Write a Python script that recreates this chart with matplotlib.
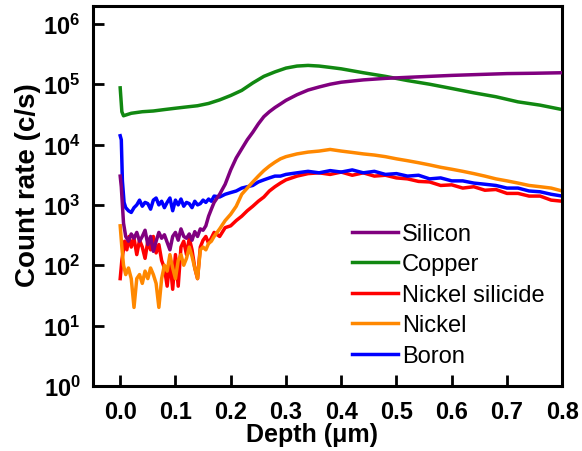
import matplotlib.pyplot as plt
import numpy as np
from matplotlib.ticker import NullLocator

plt.rcParams['font.family'] = ['Liberation Sans', 'DejaVu Sans']
plt.rcParams['mathtext.fontset'] = 'custom'
plt.rcParams['mathtext.rm'] = 'Liberation Sans'
plt.rcParams['mathtext.bf'] = 'Liberation Sans:bold'

# --- data ---
# Silicon
si_depth = [0.000, 0.002, 0.006, 0.010, 0.015, 0.020, 0.025, 0.030, 0.035, 0.040,
            0.045, 0.050, 0.055, 0.060, 0.065, 0.070, 0.075, 0.080, 0.085, 0.090,
            0.095, 0.100, 0.105, 0.110, 0.115, 0.120, 0.125, 0.130, 0.135, 0.140,
            0.145, 0.150, 0.155, 0.160, 0.165, 0.170, 0.180, 0.190, 0.200, 0.210,
            0.220, 0.230, 0.240, 0.250, 0.260, 0.270, 0.280, 0.290, 0.300, 0.320,
            0.340, 0.360, 0.380, 0.400, 0.440, 0.480, 0.520, 0.560, 0.600, 0.650,
            0.700, 0.750, 0.800]
si_rate = [3000, 2000, 500, 300, 250, 330, 280, 350, 250, 300,
           380, 220, 300, 170, 250, 350, 280, 320, 240, 180,
           300, 350, 260, 400, 300, 280, 330, 260, 360, 300,
           400, 380, 450, 650, 850, 1100, 1500, 2200, 3800, 6000,
           8500, 12000, 16000, 22000, 29000, 35000, 41000, 47000, 54000, 67000,
           80000, 90000, 100000, 108000, 118000, 125000, 130000, 135000, 140000, 145000,
           150000, 152000, 155000]

# Copper
cu_depth = [0.000, 0.003, 0.006, 0.020, 0.040, 0.060, 0.080, 0.100, 0.120, 0.140,
            0.160, 0.180, 0.200, 0.220, 0.240, 0.260, 0.280, 0.300, 0.320, 0.340,
            0.360, 0.380, 0.400, 0.440, 0.480, 0.520, 0.560, 0.600, 0.640, 0.680,
            0.720, 0.760, 0.800]
cu_rate = [87000, 35000, 30000, 33000, 35000, 36000, 38000, 40000, 42000, 44000,
           48000, 55000, 65000, 79000, 105000, 135000, 160000, 185000, 200000, 205000,
           200000, 190000, 180000, 155000, 135000, 115000, 100000, 85000, 72000, 62000,
           51000, 45000, 38000]

# Nickel silicide
nisi_depth = [0.000, 0.003, 0.008, 0.012, 0.016, 0.020, 0.025, 0.030, 0.035, 0.040,
              0.045, 0.050, 0.055, 0.060, 0.065, 0.070, 0.075, 0.080, 0.085, 0.090,
              0.095, 0.100, 0.105, 0.110, 0.115, 0.120, 0.125, 0.130, 0.135, 0.140,
              0.145, 0.150, 0.155, 0.160, 0.170, 0.180, 0.190, 0.200, 0.210, 0.220,
              0.230, 0.240, 0.250, 0.260, 0.270, 0.280, 0.290, 0.300, 0.320, 0.340,
              0.360, 0.380, 0.400, 0.420, 0.440, 0.460, 0.480, 0.500, 0.520, 0.540,
              0.560, 0.580, 0.600, 0.620, 0.640, 0.660, 0.680, 0.700, 0.720, 0.740,
              0.760, 0.780, 0.800]
nisi_rate = [60, 120, 250, 180, 300, 200, 280, 150, 260, 200,
             130, 250, 180, 300, 160, 220, 120, 90, 45, 120,
             40, 150, 45, 200, 250, 150, 280, 180, 90, 60,
             200, 260, 300, 230, 350, 300, 420, 450, 550, 650,
             800, 950, 1150, 1350, 1700, 2000, 2300, 2600, 3000, 3300,
             3400, 3200, 3500, 3100, 3400, 3000, 3100, 2800, 2700, 2450,
             2400, 2100, 2150, 1900, 2000, 1750, 1800, 1550, 1550, 1400,
             1400, 1200, 1150]

# Nickel
ni_depth = [0.000, 0.003, 0.006, 0.010, 0.015, 0.020, 0.025, 0.030, 0.035, 0.040,
            0.045, 0.050, 0.055, 0.060, 0.065, 0.070, 0.075, 0.080, 0.085, 0.090,
            0.095, 0.100, 0.105, 0.110, 0.115, 0.120, 0.125, 0.130, 0.135, 0.140,
            0.145, 0.150, 0.155, 0.160, 0.165, 0.170, 0.180, 0.190, 0.200, 0.210,
            0.220, 0.230, 0.240, 0.250, 0.260, 0.270, 0.280, 0.290, 0.300, 0.320,
            0.340, 0.360, 0.380, 0.400, 0.420, 0.440, 0.460, 0.480, 0.500, 0.520,
            0.540, 0.560, 0.580, 0.600, 0.620, 0.640, 0.660, 0.680, 0.700, 0.720,
            0.740, 0.760, 0.780, 0.800]
ni_rate = [450, 200, 100, 70, 90, 60, 20, 60, 70, 50,
           80, 60, 90, 70, 50, 20, 60, 100, 80, 150,
           90, 60, 120, 150, 100, 130, 200, 140, 90, 60,
           180, 200, 180, 230, 250, 300, 400, 550, 700, 950,
           1500, 1900, 2400, 3000, 3700, 4400, 5100, 5800, 6300, 7000,
           7500, 7800, 8300, 7800, 7400, 7000, 6700, 6300, 5800, 5400,
           5000, 4600, 4200, 3900, 3600, 3300, 3000, 2700, 2500, 2300,
           2100, 2000, 1900, 1700]

# Boron
b_depth = [0.000, 0.002, 0.004, 0.007, 0.010, 0.015, 0.020, 0.025, 0.030, 0.035,
           0.040, 0.045, 0.050, 0.055, 0.060, 0.065, 0.070, 0.075, 0.080, 0.085,
           0.090, 0.095, 0.100, 0.105, 0.110, 0.115, 0.120, 0.125, 0.130, 0.135,
           0.140, 0.145, 0.150, 0.155, 0.160, 0.165, 0.170, 0.180, 0.190, 0.200,
           0.210, 0.220, 0.230, 0.240, 0.250, 0.260, 0.270, 0.280, 0.290, 0.300,
           0.320, 0.340, 0.360, 0.380, 0.400, 0.420, 0.440, 0.460, 0.480, 0.500,
           0.520, 0.540, 0.560, 0.580, 0.600, 0.620, 0.640, 0.660, 0.680, 0.700,
           0.720, 0.740, 0.760, 0.780, 0.800]
b_rate = [14000, 12000, 2500, 1100, 900, 800, 750, 900, 1000, 1200,
          950, 1100, 1050, 850, 1200, 1300, 1000, 1150, 900, 1100,
          1300, 800, 1200, 1000, 1250, 950, 1100, 1050, 900, 1150,
          1000, 1050, 1200, 1100, 1250, 1150, 1400, 1350, 1500, 1600,
          1700, 1900, 2000, 2100, 2400, 2600, 2800, 3000, 3000, 3200,
          3400, 3600, 3400, 3700, 3500, 3800, 3400, 3600, 3200, 3300,
          3000, 3100, 2700, 2800, 2500, 2500, 2300, 2200, 2100, 1900,
          1900, 1700, 1650, 1500, 1400]

series = [
    ('Silicon', si_depth, si_rate, '#80007f', 3),
    ('Copper', cu_depth, cu_rate, '#118811', 2),
    ('Nickel silicide', nisi_depth, nisi_rate, '#ff0000', 1),
    ('Nickel', ni_depth, ni_rate, '#ff8800', 2.5),
    ('Boron', b_depth, b_rate, '#0000ff', 2.2),
]

fig, ax = plt.subplots(figsize=(5.82, 4.52), dpi=100)
fig.subplots_adjust(left=0.160, right=0.966, bottom=0.144, top=0.985)

for name, d, r, c, z in series:
    ax.plot(d, r, color=c, lw=2.5, label=name, zorder=z)

ax.set_yscale('log')
ax.set_ylim(1, 10 ** 6.3)
ax.set_xlim(-0.049, 0.8)
ax.set_xticks(np.arange(0, 0.81, 0.1))
ax.xaxis.set_major_formatter(plt.FuncFormatter(lambda v, p: '%.1f' % v))
ax.set_yticks(10.0 ** np.arange(0, 7))
ax.yaxis.set_major_formatter(plt.FuncFormatter(
    lambda v, p: r'$\mathbf{10^{%d}}$' % int(round(np.log10(v)))))
ax.yaxis.set_minor_locator(NullLocator())

ax.tick_params(direction='in', length=8, width=2, labelsize=17, top=False, right=False)
ax.tick_params(axis='x', pad=10)
ax.tick_params(axis='y', pad=9)
for lab in ax.get_xticklabels():
    lab.set_fontweight('bold')
for sp in ax.spines.values():
    sp.set_linewidth(2.2)

ax.set_xlabel('Depth (\u03bcm)', fontsize=18, fontweight='bold')
ax.xaxis.set_label_coords(0.467, -0.094)
ax.set_ylabel('Count rate (c/s)', fontsize=20, fontweight='bold')
ax.yaxis.set_label_coords(-0.112, 0.532)

ax.legend(loc='lower left', bbox_to_anchor=(0.552, 0.05), frameon=False, fontsize=17,
          handlelength=1.95, handletextpad=0.15, labelspacing=0.36, borderpad=0,
          borderaxespad=0)

fig.savefig('out.png', dpi=100)
